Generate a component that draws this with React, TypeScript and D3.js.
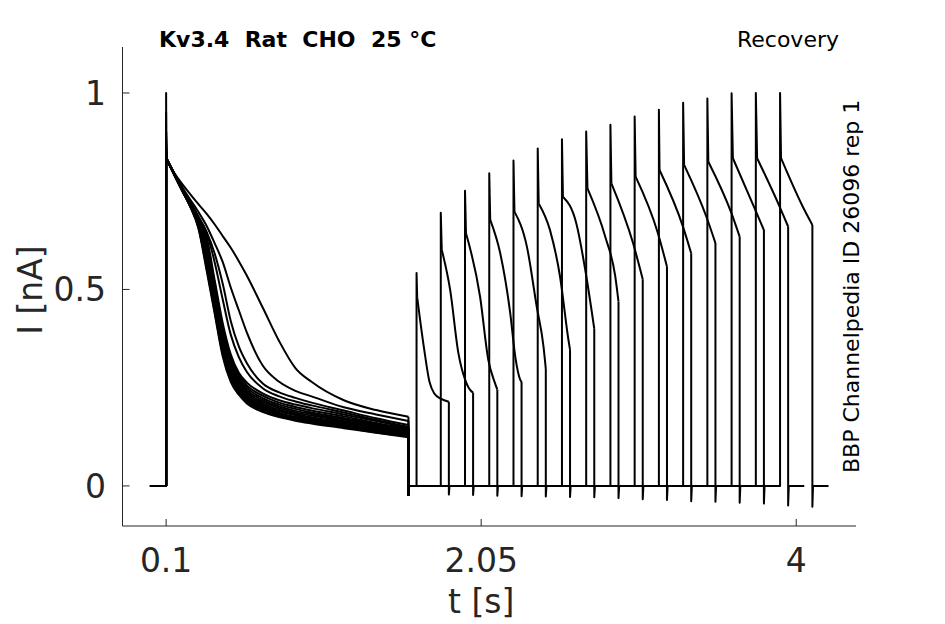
import * as d3 from "d3";

type Pt = [number, number];

// protocol (s)
const stepStart = 0.1;
const stepEnd = 1.6;
const testLength = 0.2;
const tailLength = 0.1;

// first (conditioning) pulse, sampled at shared times
const pulseTimes = [0.101, 0.15, 0.2, 0.25, 0.3, 0.35, 0.4, 0.45, 0.5, 0.55, 0.6, 0.7, 0.8, 0.9, 1.0, 1.2, 1.4, 1.6];
const firstDecays: number[][] = [
  [0.834, 0.797, 0.768, 0.742, 0.717, 0.693, 0.666, 0.636, 0.606, 0.572, 0.535, 0.452, 0.368, 0.3, 0.265, 0.218, 0.193, 0.176],
  [0.834, 0.795, 0.76, 0.728, 0.697, 0.662, 0.618, 0.57, 0.505, 0.447, 0.39, 0.305, 0.265, 0.242, 0.228, 0.2, 0.182, 0.165],
  [0.834, 0.795, 0.758, 0.722, 0.685, 0.647, 0.592, 0.515, 0.42, 0.355, 0.312, 0.26, 0.238, 0.224, 0.212, 0.192, 0.172, 0.155],
  [0.834, 0.795, 0.757, 0.721, 0.685, 0.645, 0.57, 0.475, 0.385, 0.328, 0.29, 0.248, 0.228, 0.215, 0.205, 0.187, 0.168, 0.15],
  [0.834, 0.795, 0.756, 0.72, 0.683, 0.635, 0.525, 0.415, 0.335, 0.288, 0.263, 0.235, 0.218, 0.207, 0.198, 0.182, 0.165, 0.148],
  [0.834, 0.795, 0.755, 0.719, 0.681, 0.628, 0.516, 0.406, 0.329, 0.283, 0.256, 0.229, 0.212, 0.201, 0.192, 0.177, 0.16, 0.145],
  [0.834, 0.795, 0.755, 0.718, 0.679, 0.62, 0.507, 0.398, 0.322, 0.278, 0.25, 0.223, 0.207, 0.196, 0.187, 0.173, 0.157, 0.142],
  [0.834, 0.794, 0.754, 0.717, 0.677, 0.612, 0.499, 0.39, 0.315, 0.272, 0.244, 0.218, 0.202, 0.191, 0.183, 0.169, 0.154, 0.14],
  [0.834, 0.794, 0.754, 0.716, 0.675, 0.604, 0.491, 0.382, 0.308, 0.266, 0.239, 0.213, 0.198, 0.187, 0.179, 0.165, 0.151, 0.137],
  [0.834, 0.794, 0.753, 0.715, 0.672, 0.596, 0.483, 0.374, 0.301, 0.26, 0.234, 0.209, 0.194, 0.183, 0.175, 0.162, 0.148, 0.135],
  [0.834, 0.793, 0.753, 0.714, 0.67, 0.588, 0.475, 0.366, 0.294, 0.255, 0.229, 0.205, 0.19, 0.18, 0.172, 0.159, 0.145, 0.133],
  [0.834, 0.793, 0.752, 0.713, 0.667, 0.58, 0.467, 0.358, 0.287, 0.25, 0.225, 0.201, 0.186, 0.176, 0.169, 0.156, 0.142, 0.131],
  [0.834, 0.793, 0.752, 0.712, 0.664, 0.571, 0.458, 0.35, 0.28, 0.245, 0.221, 0.197, 0.183, 0.173, 0.166, 0.153, 0.14, 0.13],
  [0.834, 0.792, 0.751, 0.711, 0.661, 0.562, 0.45, 0.342, 0.273, 0.24, 0.217, 0.194, 0.18, 0.17, 0.163, 0.151, 0.138, 0.128],
  [0.834, 0.792, 0.751, 0.71, 0.658, 0.556, 0.445, 0.336, 0.269, 0.236, 0.214, 0.191, 0.177, 0.168, 0.161, 0.149, 0.136, 0.126],
  [0.834, 0.792, 0.75, 0.71, 0.655, 0.55, 0.44, 0.33, 0.265, 0.232, 0.21, 0.188, 0.175, 0.166, 0.159, 0.147, 0.135, 0.124]
];
const firstPeaks = [1.0, 0.95, 0.9, 0.9, 0.89, 0.88, 0.88, 0.87, 0.87, 0.86, 0.86, 0.86, 0.85, 0.85, 0.85, 0.85];
const firstDips = [-0.02, -0.021, -0.022, -0.022, -0.023, -0.023, -0.023, -0.023, -0.023, -0.023, -0.023, -0.023, -0.023, -0.023, -0.023, -0.023];

// second (test) pulse, times relative to its onset
const recoveryGaps = [0.05, 0.2, 0.35, 0.5, 0.65, 0.8, 0.95, 1.1, 1.25, 1.4, 1.55, 1.7, 1.85, 2.0, 2.15, 2.3];
const secondPeaks = [0.542, 0.695, 0.751, 0.796, 0.828, 0.859, 0.882, 0.902, 0.919, 0.94, 0.957, 0.975, 0.986, 0.999, 1.0, 1.0];
const secondDecays: Pt[][] = [
  [[0.004, 0.48], [0.045, 0.354], [0.08, 0.265], [0.11, 0.235], [0.15, 0.222], [0.2, 0.214]],
  [[0.006, 0.601], [0.058, 0.499], [0.109, 0.338], [0.151, 0.27], [0.192, 0.24], [0.2, 0.238]],
  [[0.006, 0.643], [0.093, 0.482], [0.144, 0.321], [0.186, 0.261], [0.2, 0.245]],
  [[0.006, 0.677], [0.068, 0.592], [0.13, 0.439], [0.161, 0.329], [0.192, 0.27], [0.2, 0.265]],
  [[0.006, 0.698], [0.083, 0.609], [0.144, 0.456], [0.186, 0.354], [0.2, 0.298]],
  [[0.006, 0.719], [0.076, 0.651], [0.138, 0.533], [0.19, 0.372], [0.2, 0.346]],
  [[0.006, 0.736], [0.089, 0.668], [0.151, 0.533], [0.2, 0.4]],
  [[0.008, 0.757], [0.118, 0.634], [0.18, 0.533], [0.2, 0.469]],
  [[0.006, 0.77], [0.14, 0.618], [0.2, 0.526]],
  [[0.006, 0.787], [0.144, 0.643], [0.2, 0.558]],
  [[0.004, 0.804], [0.149, 0.66], [0.2, 0.592]],
  [[0.006, 0.817], [0.144, 0.685], [0.2, 0.618]],
  [[0.006, 0.825], [0.149, 0.694], [0.2, 0.634]],
  [[0.008, 0.834], [0.142, 0.707], [0.2, 0.651]],
  [[0.008, 0.834], [0.147, 0.711], [0.2, 0.66]],
  [[0.006, 0.834], [0.14, 0.711], [0.2, 0.664]]
];
const secondDips = [-0.022, -0.023, -0.025, -0.026, -0.027, -0.028, -0.029, -0.031, -0.034, -0.036, -0.039, -0.04, -0.043, -0.045, -0.05, -0.053];

const xTicks = [0.1, 2.05, 4];
const xTickLabels = ["0.1", "2.05", "4"];
const yTicks = [0, 0.5, 1];
const yTickLabels = ["0", "0.5", "1"];

const font = "'DejaVu Sans', sans-serif";
const axisColor = "#262626";

export default function App() {
  const width = 945;
  const height = 624;
  const plot = { left: 122.5, right: 856, top: 47, bottom: 526 };
  const x = d3.scaleLinear([-0.17, 4.37], [plot.left, plot.right]);
  const y = d3.scaleLinear([-0.102, 1.117], [plot.bottom, plot.top]);
  const smooth = d3.line<Pt>().x((d) => x(d[0])).y((d) => y(d[1])).curve(d3.curveMonotoneX);
  const straight = d3.line<Pt>().x((d) => x(d[0])).y((d) => y(d[1]));

  const traces = firstDecays.map((values, i) => {
    const testStart = stepEnd + recoveryGaps[i];
    const testEnd = testStart + testLength;
    const decay2 = secondDecays[i];
    const decay1: Pt[] = pulseTimes.map((t, j) => [t, values[j]]);
    const lead: Pt[] = [[0, 0], [stepStart, 0], [stepStart, firstPeaks[i]], decay1[0]];
    const gap: Pt[] = [
      [stepEnd, values[values.length - 1]],
      [stepEnd, firstDips[i]],
      [stepEnd + 0.004, 0],
      [testStart, 0],
      [testStart, secondPeaks[i]],
      [testStart + decay2[0][0], decay2[0][1]]
    ];
    const test: Pt[] = decay2.map(([dt, v]) => [testStart + dt, v]);
    const tail: Pt[] = [
      [testEnd, decay2[decay2.length - 1][1]],
      [testEnd, secondDips[i]],
      [testEnd + 0.004, 0],
      [testEnd + tailLength, 0]
    ];
    return { lead, decay1, gap, test, tail };
  });

  return (
    <svg
      width={width}
      height={height}
      viewBox={`0 0 ${width} ${height}`}
      style={{ position: "absolute", left: 0, top: 0, background: "#fff" }}
    >
      <rect x="0" y="0" width={width} height={height} fill="#fff" />
      <g fill="none" stroke="#000" strokeWidth="2" strokeLinejoin="round">
        {traces.map((tr, i) => (
          <g key={i}>
            <path d={straight(tr.lead) ?? undefined} />
            <path d={smooth(tr.decay1) ?? undefined} />
            <path d={straight(tr.gap) ?? undefined} />
            <path d={smooth(tr.test) ?? undefined} />
            <path d={straight(tr.tail) ?? undefined} />
          </g>
        ))}
      </g>
      <g stroke={axisColor} strokeWidth="1" fill="none">
        <line x1={plot.left} x2={plot.left} y1={plot.top} y2={plot.bottom} />
        <line x1={plot.left} x2={plot.right} y1={plot.bottom} y2={plot.bottom} />
        {yTicks.map((t) => (
          <line key={t} x1={plot.left} x2={plot.left + 7} y1={y(t)} y2={y(t)} />
        ))}
        {xTicks.map((t) => (
          <line key={t} x1={x(t)} x2={x(t)} y1={plot.bottom} y2={plot.bottom - 7} />
        ))}
      </g>
      <g fontFamily={font} fontSize="33" fill={axisColor}>
        {yTicks.map((t, i) => (
          <text key={t} x={106} y={y(t) + 12} textAnchor="end">
            {yTickLabels[i]}
          </text>
        ))}
        {xTicks.map((t, i) => (
          <text key={t} x={x(t)} y={572} textAnchor="middle">
            {xTickLabels[i]}
          </text>
        ))}
        <text x={x(2.05)} y={613} textAnchor="middle">t [s]</text>
        <text transform={`translate(42, 290) rotate(-90)`} textAnchor="middle">I [nA]</text>
      </g>
      <text x={159} y={46.5} fontFamily={font} fontSize="22" fontWeight="bold" fill="#000" style={{ whiteSpace: "pre" }}>
        {"Kv3.4  Rat  CHO  25 °C"}
      </text>
      <text x={839} y={46.5} fontFamily={font} fontSize="22" fill="#000" textAnchor="end">
        Recovery
      </text>
      <text
        transform={`translate(859, 473) rotate(-90)`}
        fontFamily={font}
        fontSize="22"
        fill="#000"
      >
        BBP Channelpedia ID 26096 rep 1
      </text>
    </svg>
  );
}
